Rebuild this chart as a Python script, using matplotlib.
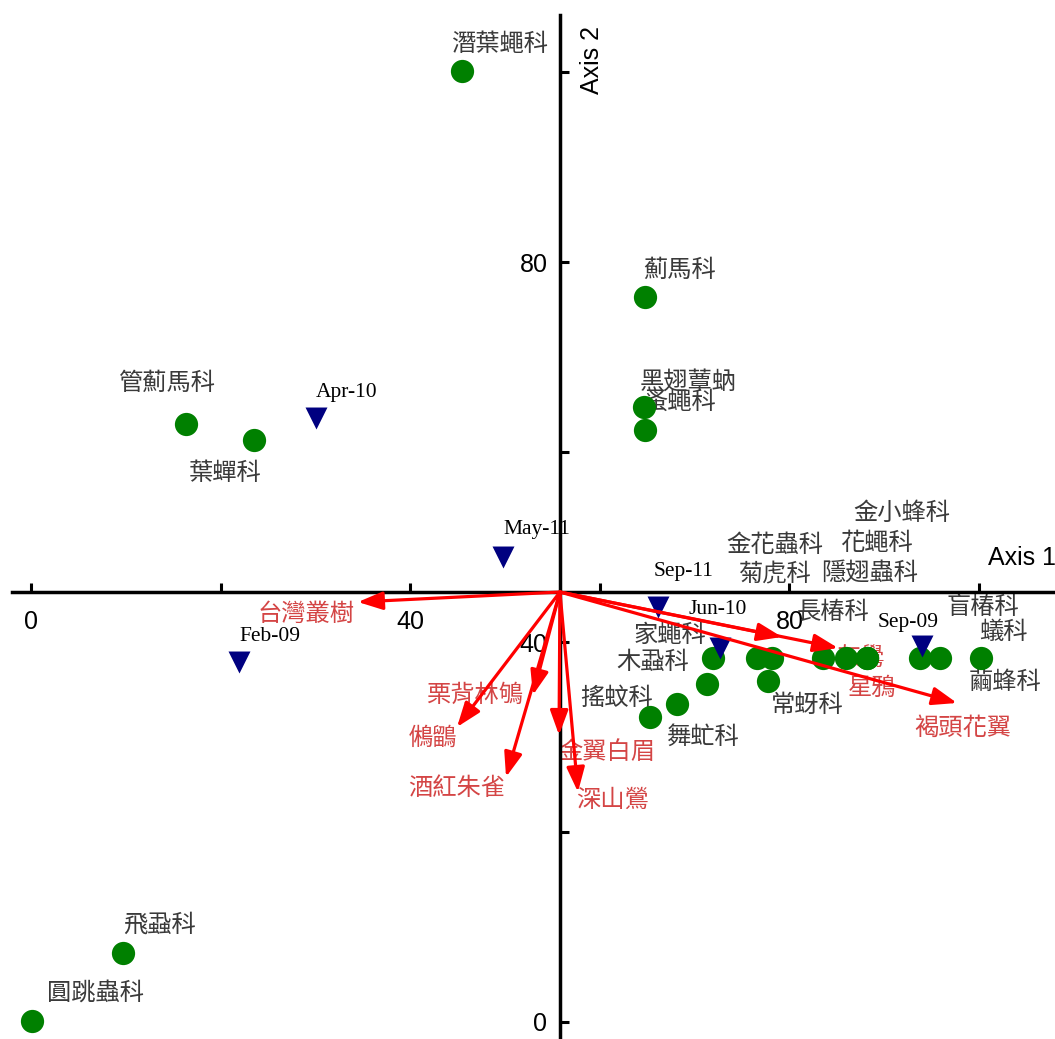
import matplotlib
matplotlib.use("Agg")
import matplotlib.pyplot as plt

plt.rcParams['font.family'] = ['Liberation Sans', 'DejaVu Sans']

# 排序圖：昆蟲科別 (綠點)、採樣時間 (藍三角)、鳥種 (紅箭頭)
taxa = ['潛葉蠅科', '薊馬科', '黑翅蕈蚋', '蚤蠅科', '管薊馬科', '葉蟬科', '飛蝨科', '圓跳蟲科',
        '搖蚊科', '舞虻科', '木蝨科', '家蠅科', '菊虎科', '金花蟲科', '常蚜科', '長椿科',
        '花蠅科', '隱翅蟲科', '金小蜂科', '盲椿科', '蟻科', '繭蜂科']
taxa_x = [45.46, 64.77, 64.66, 64.77, 16.35, 23.52, 9.70, 0.11,
          65.30, 68.14, 71.31, 71.94, 76.58, 78.16, 77.74, 83.54,
          85.97, 88.19, 88.19, 93.78, 95.89, 100.21]
taxa_y = [100.11, 76.32, 64.74, 62.32, 62.95, 61.26, 7.26, 0.11,
          32.11, 33.47, 35.58, 38.32, 38.32, 38.32, 35.89, 38.32,
          38.32, 38.32, 38.32, 38.32, 38.32, 38.32]

dates = ['Apr-10', 'May-11', 'Feb-09', 'Sep-11', 'Jun-10', 'Sep-09']
date_x = [30.06, 49.79, 21.94, 66.14, 72.68, 93.99]
date_y = [63.58, 48.95, 37.89, 43.68, 39.37, 39.58]

birds = ['台灣叢樹', '栗背林鴝', '鵂鶹', '酒紅朱雀', '金翼白眉', '深山鶯', '星鴉', '灰鷽', '褐頭花翼']
bird_x = [34.49, 52.95, 44.94, 50.11, 55.70, 57.70, 79.22, 85.13, 97.68]
bird_y = [44.21, 34.42, 31.05, 25.79, 30.21, 24.21, 40.53, 39.37, 33.58]

# 軸線交點
cx, cy = 55.80, 45.26

# 標籤位移 (像素)
taxa_off = [(38, 27), (35, 27), (44, 25), (35, 28), (-19, 41), (-29, -33), (37, 28), (63, 28),
            (-33, 19), (26, -33), (-54, 22), (-43, 23), (18, 83), (3, 113), (39, -24), (10, 46),
            (31, 115), (3, 85), (35, 145), (63, 51), (63, 26), (24, -24)]
date_off = [(31, 25), (34, 27), (31, 26), (26, 36), (-2, 38), (-14, 23)]
bird_off = [(-52, -12), (-58, 0), (-24, -11), (-49, -11), (48, -17), (35, -8), (90, -51), (22, -10), (6, -25)]

fig = plt.figure(figsize=(10.55, 10.39), dpi=100)
ax = fig.add_axes([0, 0, 1, 1])
ax.set_xlim(-3.27, 108.02)
ax.set_ylim(-1.79, 107.58)

for s in ['top', 'right']:
    ax.spines[s].set_visible(False)
ax.spines['left'].set_position(('data', cx))
ax.spines['bottom'].set_position(('data', cy))
ax.spines['left'].set_bounds(-1.79, 106.0)
ax.spines['bottom'].set_bounds(-2.0, 108.02)
for s in ['left', 'bottom']:
    ax.spines[s].set_linewidth(2.5)

ax.set_xticks([0, 40, 80])
ax.set_xticks([20, 60, 100], minor=True)
ax.set_yticks([0, 40, 80])
ax.set_yticks([20, 60, 100], minor=True)
ax.tick_params(which='both', direction='in', length=6.5, width=2.2, labelsize=18)
ax.tick_params(axis='x', pad=13)
ax.tick_params(axis='y', pad=9)

cjk = ['Noto Sans CJK TC', 'DejaVu Sans']

for i, name in enumerate(taxa):
    ax.annotate(name, (taxa_x[i], taxa_y[i]), xytext=taxa_off[i], textcoords='offset pixels',
                ha='center', va='center', fontsize=17.5, family=cjk, color='#3a3a3a', zorder=2)
for i, name in enumerate(birds):
    ax.annotate(name, (bird_x[i], bird_y[i]), xytext=bird_off[i], textcoords='offset pixels',
                ha='center', va='center', fontsize=17.5, family=cjk, color='#d44545', zorder=2)
for i, name in enumerate(dates):
    ax.annotate(name, (date_x[i], date_y[i]), xytext=date_off[i], textcoords='offset pixels',
                ha='center', va='center', fontsize=15.5, family='Liberation Serif', color='black', zorder=2)

ax.scatter(taxa_x, taxa_y, s=280, color='#008000', zorder=3, linewidths=0)
ax.scatter(date_x, date_y, marker='v', s=250, color='#000080', zorder=3, linewidths=0)

for i in range(len(birds)):
    ax.annotate('', xy=(bird_x[i], bird_y[i]), xytext=(cx, cy),
                arrowprops=dict(arrowstyle='-|>,head_length=1.5,head_width=0.55', color='#ff0000',
                                lw=2.3, shrinkA=0, shrinkB=0, mutation_scale=10), zorder=4)

fig.text(988 / 1055, 1 - 558 / 1039, 'Axis 1', ha='left', va='center', fontsize=18)
fig.text(592 / 1055, 1 - 60 / 1039, 'Axis 2', ha='center', va='center', rotation=90, fontsize=18)

fig.savefig('out.png', dpi=100)
